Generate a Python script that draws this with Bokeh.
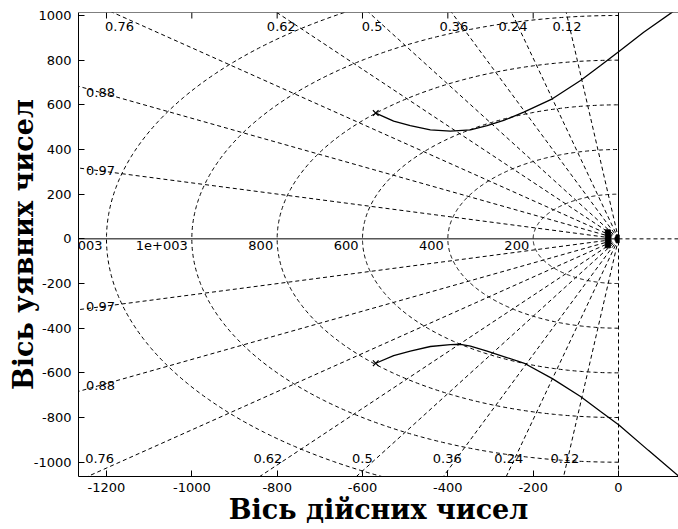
import numpy as np
from bokeh.plotting import figure
from bokeh.models import Range1d, FixedTicker, Span
from bokeh.core.properties import value
from bokeh.embed import file_html
from bokeh.resources import INLINE

# ---- data ----
x_ticks = [-1200, -1000, -800, -600, -400, -200, 0]
y_ticks = [-1000, -800, -600, -400, -200, 0, 200, 400, 600, 800, 1000]

zeta_values = [0.12, 0.24, 0.36, 0.5, 0.62, 0.76, 0.88, 0.97]
zeta_labels = ["0.12", "0.24", "0.36", "0.5", "0.62", "0.76", "0.88", "0.97"]

wn_values = [200, 400, 600, 800, 1000, 1200]
wn_labels = ["200", "400", "600", "800", "1e+003", "1.2e+003"]

# upper root-locus branch
upper_re = [-569, -527, -488, -441, -394, -347, -308, -269, -222, -155, -89, -42, 1, 59, 126, 150]
upper_im = [563, 527, 507, 488, 482, 488, 507, 530, 567, 627, 709, 776, 839, 925, 1015, 1050]
# lower root-locus branch
lower_re = [-569, -527, -488, -441, -394, -370, -347, -308, -269, -222, -155, -89, -42, 1, 70, 140, 160]
lower_im = [-557, -523, -503, -482, -474, -472, -480, -503, -527, -556, -626, -706, -773, -833, -947, -1061, -1095]

pole_re = [-569, -569]
pole_im = [563, -557]
origin_re = [-25, -2]
origin_h = [18, 8]
origin_w = [5, 3]

X_MIN, X_MAX = -1265.6, 140.6
Y_MIN, Y_MAX = -1064.0, 1013.4

FONT = "DejaVu Sans"
SERIF = "DejaVu Serif"

p = figure(frame_width=600, frame_height=464,
           x_range=Range1d(X_MIN, X_MAX), y_range=Range1d(Y_MIN, Y_MAX),
           output_backend="svg", toolbar_location=None,
           min_border_left=78, min_border_right=0, min_border_top=12,
           min_border_bottom=52, outline_line_color=None,
           background_fill_color="white", border_fill_color="white")
p.grid.visible = False

for ax in (p.xaxis[0], p.yaxis[0]):
    ax.major_tick_in = 6
    ax.major_tick_out = 0
    ax.minor_tick_line_color = None
    ax.axis_line_color = "black"
    ax.major_tick_line_color = "black"
    ax.major_label_text_font = FONT
    ax.major_label_text_font_size = "13px"
    ax.major_label_text_color = "black"
    ax.axis_label_text_font = SERIF
    ax.axis_label_text_font_style = "bold"
    ax.axis_label_text_font_size = "27px"
    ax.axis_label_text_color = "black"
p.xaxis[0].ticker = FixedTicker(ticks=x_ticks)
p.yaxis[0].ticker = FixedTicker(ticks=y_ticks)
p.xaxis[0].major_label_overrides = {t: str(t) for t in x_ticks}
p.yaxis[0].major_label_overrides = {t: str(t) for t in y_ticks}
p.xaxis[0].major_label_standoff = 6
p.yaxis[0].major_label_standoff = 7
p.xaxis[0].axis_label = "Вісь дійсних чисел"
p.yaxis[0].axis_label = "Вісь уявних чисел"
p.xaxis[0].axis_label_standoff = -1
p.yaxis[0].axis_label_standoff = -8

# top border with inward ticks
p.add_layout(Span(location=Y_MAX, dimension="width", line_color="black", line_width=1))
tick_len = 6 / (464 / (Y_MAX - Y_MIN))
p.segment(x0=x_ticks, y0=[Y_MAX] * len(x_ticks), x1=x_ticks,
          y1=[Y_MAX - tick_len] * len(x_ticks), line_color="black", line_width=1)

DASH = "4 3"

# damping-ratio lines
R = 4000.0
zx, zy = [], []
for z in zeta_values:
    s = np.sqrt(1 - z * z)
    zx += [[0, -R * z], [0, -R * z]]
    zy += [[0, R * s], [0, -R * s]]
p.multi_line(zx, zy, line_color="black", line_width=1, line_dash=DASH)

# natural-frequency semicircles
t = np.linspace(-np.pi / 2, np.pi / 2, 400)
cx = [list(-w * np.cos(t)) for w in wn_values]
cy = [list(w * np.sin(t)) for w in wn_values]
p.multi_line(cx, cy, line_color="black", line_width=1, line_dash=DASH)

# axes lines through origin
p.line([X_MIN, 0], [0, 0], line_color="black", line_width=1)
p.line([0, X_MAX], [0, 0], line_color="black", line_width=1, line_dash=DASH)
p.line([0, 0], [0, Y_MAX], line_color="black", line_width=1)
p.line([0, 0], [Y_MIN, 0], line_color="black", line_width=1, line_dash=DASH)

# root locus
p.line(upper_re, upper_im, line_color="black", line_width=1.3)
p.line(lower_re, lower_im, line_color="black", line_width=1.3)
p.scatter(pole_re, pole_im, marker="x", size=8, line_color="black", line_width=1.2)
p.rect(x=origin_re, y=[0, 0], width=origin_w, height=origin_h,
       width_units="screen", height_units="screen",
       fill_color="black", line_color="black")

# damping labels
lx, ly, lt = [], [], []
for z, lab in zip(zeta_values, zeta_labels):
    s = np.sqrt(1 - z * z)
    xt = -1000 * z / s
    if xt > X_MIN:
        lx += [xt, -1040 * z / s]
        ly += [950, -985]
    else:
        yl = 1214 * s / z
        lx += [-1214, -1214]
        ly += [yl, -yl]
    lt += [lab, lab]
p.text(lx, ly, text=lt, text_font=value(FONT), text_font_size="13px",
       text_align="center", text_baseline="middle", text_color="black")

# natural frequency labels
p.text(x=[-w for w in wn_values], y=[0] * len(wn_values), text=wn_labels,
       text_font=value(FONT), text_font_size="13px", text_align="right",
       text_baseline="top", x_offset=-4, y_offset=2, text_color="black")

open("out.html", "w").write(file_html(p, INLINE))
